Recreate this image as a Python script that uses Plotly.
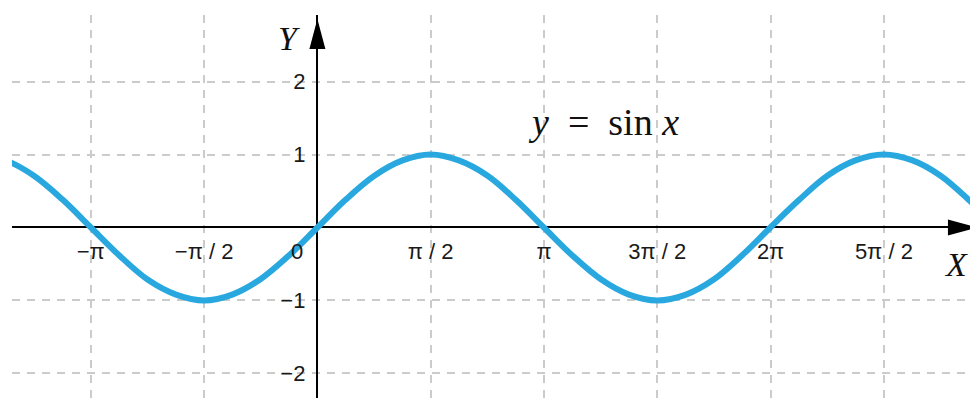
import plotly.graph_objects as go

# Curve points (x in radians)
curve_x = [-4.71, -4.32, -3.93, -3.53, -3.14, -2.75, -2.36, -1.96, -1.57, -1.18, -0.79, -0.39,
           0.0, 0.39, 0.79, 1.18, 1.57, 1.96, 2.36, 2.75, 3.14, 3.53, 3.93, 4.32, 4.71, 5.11,
           5.50, 5.89, 6.28, 6.68, 7.07, 7.46, 7.85, 8.25, 8.64, 9.03, 9.42]
curve_y = [1.0, 0.92, 0.71, 0.38, 0.0, -0.38, -0.71, -0.92, -1.0, -0.92, -0.71, -0.38,
           0.0, 0.38, 0.71, 0.92, 1.0, 0.92, 0.71, 0.38, 0.0, -0.38, -0.71, -0.92, -1.0, -0.92,
           -0.71, -0.38, 0.0, 0.38, 0.71, 0.92, 1.0, 0.92, 0.71, 0.38, 0.0]

x_tick_vals = [-3.14159, -1.5708, 1.5708, 3.14159, 4.71239, 6.28319, 7.85398]
x_tick_text = ["−π", "−π / 2", "π / 2", "π", "3π / 2", "2π", "5π / 2"]
y_tick_vals = [-2, -1, 1, 2]
y_tick_text = ["−2", "−1", "1", "2"]

title_text = "<i>y</i>\u2002=\u2002sin <i>x</i>"
x_label = "X"
y_label = "Y"
origin_label = "0"

X_RANGE = [-4.234, 9.048]
Y_RANGE = [-2.339, 2.915]
GRID = "#cbcbcb"
CURVE = "#29a8e0"
TICK_FONT = dict(family="Liberation Sans, Arial", size=22, color="#1a1a1a")

fig = go.Figure()
fig.add_trace(go.Scatter(x=curve_x, y=curve_y, mode="lines",
                         line=dict(color=CURVE, width=6, shape="spline", smoothing=1.0),
                         hoverinfo="skip", showlegend=False))

x_pos = (0 - Y_RANGE[0]) / (Y_RANGE[1] - Y_RANGE[0])
y_pos = (0 - X_RANGE[0]) / (X_RANGE[1] - X_RANGE[0])

fig.update_layout(
    width=970, height=398,
    margin=dict(l=12, r=0, t=15, b=0, pad=0),
    paper_bgcolor="white", plot_bgcolor="white",
    showlegend=False,
    xaxis=dict(range=X_RANGE, anchor="free", position=x_pos,
               tickvals=x_tick_vals, ticktext=x_tick_text, ticks="",
               ticklabelstandoff=9, tickfont=TICK_FONT,
               showgrid=True, gridcolor=GRID, gridwidth=1.5, griddash="8px,7px",
               zeroline=True, zerolinecolor="black", zerolinewidth=2,
               showline=False, fixedrange=True),
    yaxis=dict(range=Y_RANGE, anchor="free", position=y_pos,
               tickvals=y_tick_vals, ticktext=y_tick_text, ticks="",
               ticklabelstandoff=12, tickfont=TICK_FONT,
               showgrid=True, gridcolor=GRID, gridwidth=1.5, griddash="8px,7px",
               zeroline=True, zerolinecolor="black", zerolinewidth=2,
               showline=False, fixedrange=True),
)

# Axis arrowheads (pixel-sized, anchored at the axis ends)
fig.add_shape(type="path", xref="x", yref="y", xsizemode="pixel", ysizemode="pixel",
              xanchor=0, yanchor=2.86, path="M0,0 L-8,-30 L8,-30 Z",
              fillcolor="black", line=dict(width=0), layer="above")
fig.add_shape(type="path", xref="x", yref="y", xsizemode="pixel", ysizemode="pixel",
              xanchor=9.158, yanchor=0, path="M0,0 L-30,8 L-30,-8 Z",
              fillcolor="black", line=dict(width=0), layer="above")

SERIF = "Liberation Serif, Times New Roman"
fig.add_annotation(x=3.973, y=1.447, xref="x", yref="y", text=title_text, showarrow=False,
                   font=dict(family=SERIF, size=38, color="#111"),
                   xanchor="center", yanchor="middle")
fig.add_annotation(x=-0.394, y=2.593, xref="x", yref="y", text="<i>" + y_label + "</i>",
                   showarrow=False, font=dict(family=SERIF, size=34, color="#111"),
                   xanchor="center", yanchor="middle")
fig.add_annotation(x=8.853, y=-0.514, xref="x", yref="y", text="<i>" + x_label + "</i>",
                   showarrow=False, font=dict(family=SERIF, size=34, color="#111"),
                   xanchor="center", yanchor="middle")
fig.add_annotation(x=0, y=0, xref="x", yref="y", text=origin_label, showarrow=False,
                   xshift=-20, yshift=-24, font=TICK_FONT,
                   xanchor="center", yanchor="middle")

fig.write_html("out.html", config={"displayModeBar": False},
               post_script="document.body.style.margin='0';document.body.style.overflow='hidden';")
